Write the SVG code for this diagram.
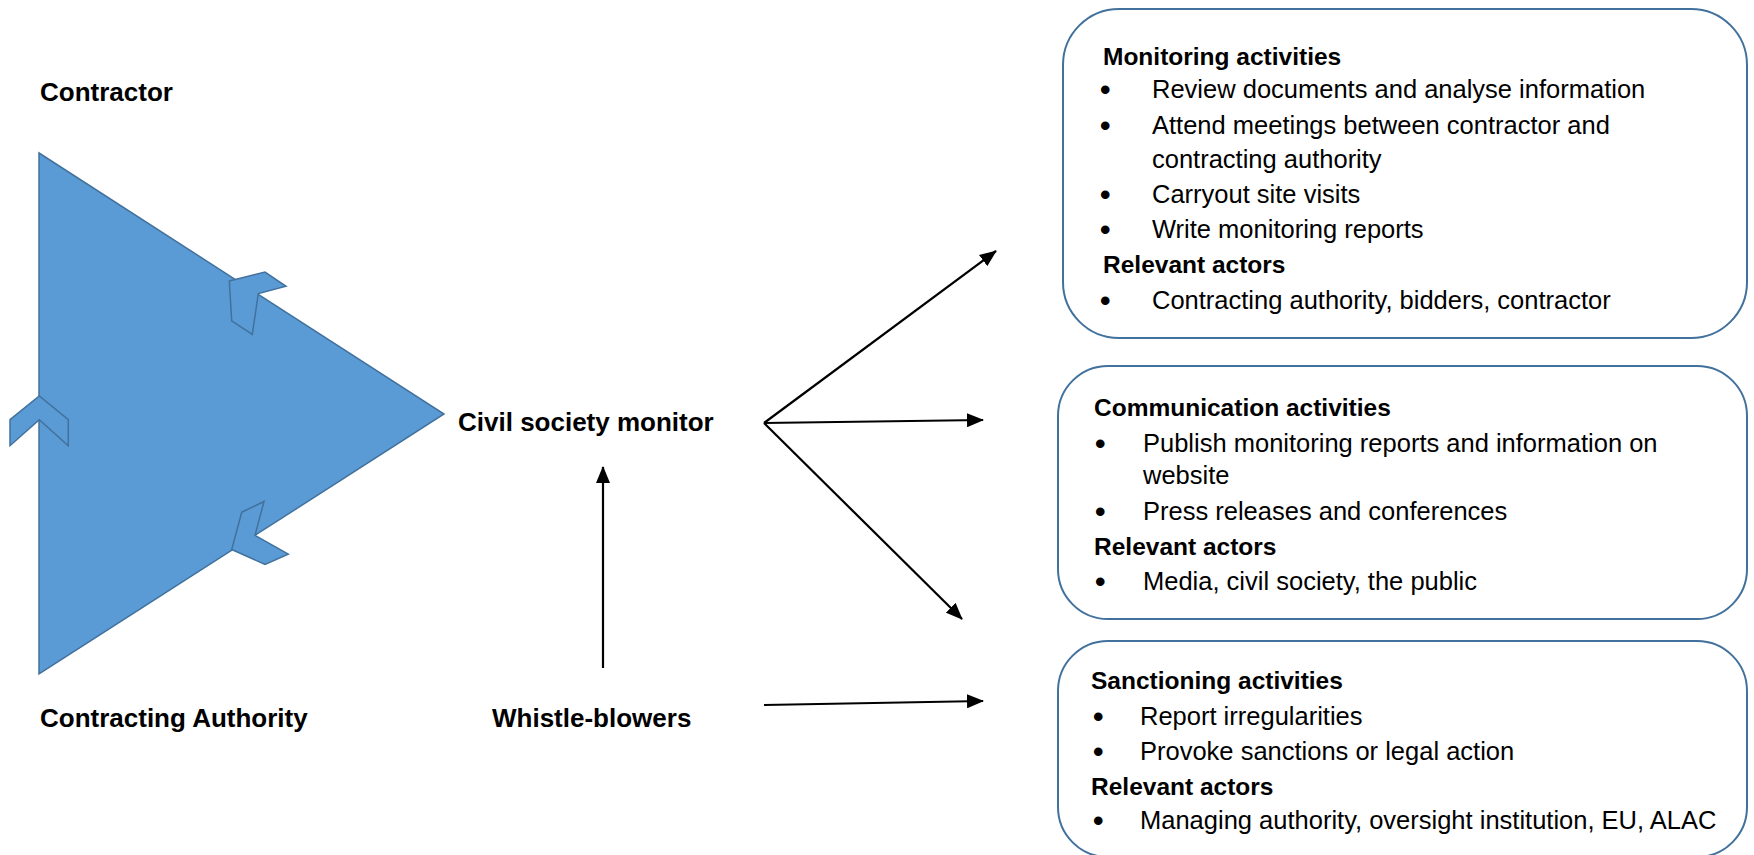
<svg xmlns="http://www.w3.org/2000/svg" width="1754" height="855" viewBox="0 0 1754 855">
<defs>
<style>
.lbl{font-family:"Liberation Sans",Arial,sans-serif;font-weight:bold;font-size:26px;fill:#000}
.hd{font-family:"Liberation Sans",Arial,sans-serif;font-weight:bold;font-size:24.5px;fill:#000}
.tx{font-family:"Liberation Sans",Arial,sans-serif;font-size:25.5px;fill:#000}
.bl{font-family:"Liberation Sans",Arial,sans-serif;font-size:30px;font-weight:bold;fill:#000}
.box{fill:#fff;stroke:#41719C;stroke-width:2}
.tri{fill:#5B9BD5;stroke:#41719C;stroke-width:1.5;stroke-linejoin:miter}
.con{stroke:#000;stroke-width:2.2;fill:none;marker-end:url(#ah)}
</style>
<marker id="ah" markerUnits="userSpaceOnUse" markerWidth="18" markerHeight="14" refX="16" refY="7" orient="auto">
<path d="M0,0 L17,7 L0,14 Z" fill="#000"/>
</marker>
</defs>
<rect width="1754" height="855" fill="#fff"/>

<g id="triangle">
<polygon class="tri" points="39,153 444,414 39,674"/>
<polygon class="tri" points="229.3,281 265,272.1 286,286.3 258.3,293.5 252.3,334.4 231.7,320.8"/>
<polygon class="tri" points="10,419.7 39.3,395.9 68.3,419.7 68.3,445.7 39.3,419.7 10,445.7"/>
<polygon class="tri" points="241.7,512.2 264,501.5 255,535.3 288.3,554.1 265,564.4 231.7,549.5"/>
</g>

<g id="contractor"><text class="lbl" x="40" y="101">Contractor</text></g>
<g id="contracting-authority"><text class="lbl" x="40" y="727">Contracting Authority</text></g>
<g id="civil-society-monitor"><text class="lbl" x="458" y="431">Civil society monitor</text></g>
<g id="whistle-blowers"><text class="lbl" x="492" y="727">Whistle-blowers</text></g>

<g id="connectors">
<line class="con" x1="603" y1="668" x2="603" y2="467"/>
<line class="con" x1="764" y1="423" x2="996" y2="251"/>
<line class="con" x1="764" y1="423" x2="983" y2="420"/>
<line class="con" x1="764" y1="423" x2="962" y2="619"/>
<line class="con" x1="764" y1="705" x2="983" y2="701"/>
</g>

<g id="monitoring">
<rect class="box" x="1063" y="9" width="684" height="329" rx="56" ry="56"/>
<text class="hd" x="1103" y="65">Monitoring activities</text>
<text class="bl" x="1100" y="100">•</text><text class="tx" x="1152" y="98">Review documents and analyse information</text>
<text class="bl" x="1100" y="136">•</text><text class="tx" x="1152" y="134">Attend meetings between contractor and</text>
<text class="tx" x="1152" y="168">contracting authority</text>
<text class="bl" x="1100" y="205">•</text><text class="tx" x="1152" y="203">Carryout site visits</text>
<text class="bl" x="1100" y="240">•</text><text class="tx" x="1152" y="238">Write monitoring reports</text>
<text class="hd" x="1103" y="273">Relevant actors</text>
<text class="bl" x="1100" y="311">•</text><text class="tx" x="1152" y="309">Contracting authority, bidders, contractor</text>
</g>

<g id="communication">
<rect class="box" x="1058" y="366" width="689" height="253" rx="50" ry="50"/>
<text class="hd" x="1094" y="416">Communication activities</text>
<text class="bl" x="1095" y="454">•</text><text class="tx" x="1143" y="452">Publish monitoring reports and information on</text>
<text class="tx" x="1143" y="484">website</text>
<text class="bl" x="1095" y="522">•</text><text class="tx" x="1143" y="520">Press releases and conferences</text>
<text class="hd" x="1094" y="555">Relevant actors</text>
<text class="bl" x="1095" y="592">•</text><text class="tx" x="1143" y="590">Media, civil society, the public</text>
</g>

<g id="sanctioning">
<rect class="box" x="1058" y="641" width="689" height="216" rx="50" ry="50"/>
<text class="hd" x="1091" y="689">Sanctioning activities</text>
<text class="bl" x="1093" y="727">•</text><text class="tx" x="1140" y="725">Report irregularities</text>
<text class="bl" x="1093" y="762">•</text><text class="tx" x="1140" y="760">Provoke sanctions or legal action</text>
<text class="hd" x="1091" y="795">Relevant actors</text>
<text class="bl" x="1093" y="831">•</text><text class="tx" x="1140" y="829">Managing authority, oversight institution, EU, ALAC</text>
</g>
</svg>
